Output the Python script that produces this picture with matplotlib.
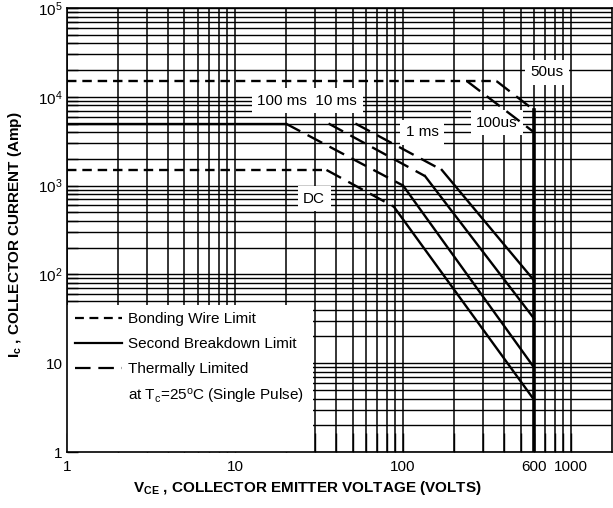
import numpy as np
import matplotlib.pyplot as plt
from matplotlib import font_manager, ticker
from matplotlib.lines import Line2D
from matplotlib.patches import Rectangle

names = {f.name for f in font_manager.fontManager.ttflist}
narrow = 'Liberation Sans Narrow' if 'Liberation Sans Narrow' in names else 'Liberation Sans'
fs = 13 if narrow == 'Liberation Sans Narrow' else 11

plt.rcParams['font.family'] = [narrow, 'DejaVu Sans']
plt.rcParams['mathtext.fontset'] = 'custom'
plt.rcParams['mathtext.rm'] = narrow
plt.rcParams['mathtext.it'] = narrow
plt.rcParams['mathtext.bf'] = 'Liberation Sans:bold'

# safe operating area (V, A)
v_50us = [1, 360, 600]
i_50us = [15000, 15000, 7100]
v_100us = [240, 600]
i_100us = [15000, 4000]
v_1ms = [52, 170, 600]
i_1ms = [5000, 1500, 86]
v_10ms = [36, 135, 600]
i_10ms = [5000, 1280, 32]
v_100ms = [1, 20, 100, 600]
i_100ms = [5000, 5000, 1000, 9]
v_dc = [1, 35, 88, 600]
i_dc = [1500, 1500, 580, 3.9]
v_max = [600, 600]
i_max = [7100, 1]

x_ticks = [1, 10, 100, 600, 1000]
x_labels = ['1', '10', '100', '600', '1000']
y_ticks = [1, 10, 1e2, 1e3, 1e4, 1e5]
y_labels = ['1', '10', '10$^2$', '10$^3$', '10$^4$', '10$^5$']

curve_labels = ['100 ms  10 ms', '1 ms', '100us', '50us', 'DC']
label_v = [26.9, 130, 362, 720, 29.5]
label_i = [8970, 4000, 5070, 19000, 710]

wire = (0, (4, 2.5))
thermal = (0, (7, 3.5))
solid = '-'

curves = [(v_50us, i_50us, [wire, thermal]),
          (v_100us, i_100us, [thermal]),
          (v_1ms, i_1ms, [thermal, solid]),
          (v_10ms, i_10ms, [thermal, solid]),
          (v_100ms, i_100ms, [solid, thermal, solid]),
          (v_dc, i_dc, [wire, thermal, solid])]

xmax = 1750
fig = plt.figure(figsize=(6.13, 5.08), dpi=100)
ax = fig.add_axes([67/613, 1-452/508, 545/613, 444/508])
ax.set_xscale('log')
ax.set_yscale('log')

grid_x = np.array([m * 10.0**k for k in range(4) for m in range(1, 10)])
grid_x = grid_x[grid_x < xmax]
grid_y = np.array([m * 10.0**k for k in range(5) for m in range(1, 10)] + [1e5])
ax.vlines(grid_x, 1, 1e5, colors='black', lw=1.1, zorder=1)
ax.hlines(grid_y, 1, xmax, colors='black', lw=1.0, zorder=1)

# blank area behind the legend, like the scan
ax.add_patch(Rectangle((0, 0), 0.451, 0.331, transform=ax.transAxes,
                       fc='white', ec='none', zorder=2))

for v, i, segs in curves:
    for k, ls in enumerate(segs):
        ax.plot(v[k:k+2], i[k:k+2], color='black', lw=1.7, ls=ls, zorder=3)
ax.plot(v_max, i_max, color='black', lw=2.6, zorder=3)

for s, v, i in zip(curve_labels, label_v, label_i):
    ax.text(v, i, s, ha='center', va='center', fontsize=fs, zorder=2.2,
            bbox=dict(fc='white', ec='none', pad=4))

ax.set_xlim(1, xmax)
ax.set_ylim(1, 1e5)
ax.xaxis.set_major_locator(ticker.FixedLocator(x_ticks))
ax.xaxis.set_major_formatter(ticker.FixedFormatter(x_labels))
ax.xaxis.set_minor_locator(ticker.FixedLocator(grid_x))
ax.xaxis.set_minor_formatter(ticker.NullFormatter())
ax.yaxis.set_major_locator(ticker.FixedLocator(y_ticks))
ax.yaxis.set_major_formatter(ticker.FixedFormatter(y_labels))
ax.yaxis.set_minor_locator(ticker.FixedLocator(grid_y))
ax.yaxis.set_minor_formatter(ticker.NullFormatter())
ax.tick_params(axis='x', which='both', direction='in', length=14, width=1,
               pad=6, labelsize=fs, colors='black')
ax.tick_params(axis='y', which='both', direction='in', length=8, width=1,
               pad=3, labelsize=fs, colors='black')
for sp in ax.spines.values():
    sp.set_linewidth(1.2)

handles = [Line2D([], [], color='black', lw=1.6, ls=wire),
           Line2D([], [], color='black', lw=1.6, ls=solid),
           Line2D([], [], color='black', lw=1.6, ls=thermal),
           Line2D([], [], color='none')]
labels = ['Bonding Wire Limit', 'Second Breakdown Limit', 'Thermally Limited',
          'at T$_\\mathrm{c}$=25$^\\mathrm{o}$C (Single Pulse)']
ax.legend(handles, labels, loc='upper left', bbox_to_anchor=(8/545, 140/444),
          frameon=False, fontsize=fs, handlelength=3.1, handletextpad=0.4,
          labelspacing=0.72, borderaxespad=0, borderpad=0)

fig.text(307/613, 1-488/508, 'V$_{\\mathbf{CE}}$ , COLLECTOR EMITTER VOLTAGE (VOLTS)',
         ha='center', va='center', fontsize=11, fontweight='bold',
         family='Liberation Sans')
fig.text(15/613, 1-235/508, 'I$_{\\mathbf{c}}$ , COLLECTOR CURRENT (Amp)',
         ha='center', va='center', rotation=90, fontsize=11, fontweight='bold',
         family='Liberation Sans')

fig.savefig('out.png', dpi=100)
